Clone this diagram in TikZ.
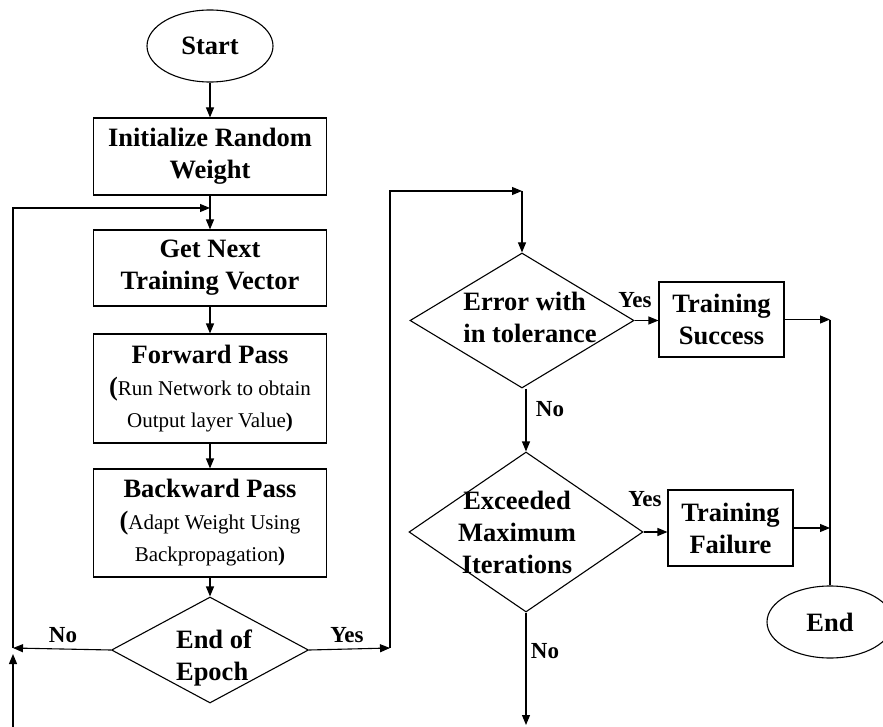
\documentclass[tikz,border=0pt]{standalone}
\usepackage{fontspec}
\setmainfont{Liberation Serif}
\usetikzlibrary{shapes.geometric, arrows.meta}

% lighter text for the second lines in the pass boxes
\newcommand{\detail}{\mdseries\fontsize{21}{32}\selectfont}

\tikzset{
  terminal/.style={draw, ellipse, minimum width=126pt, minimum height=72pt, inner sep=0pt, font=\bfseries\fontsize{26.5}{31}\selectfont},
  process/.style={draw, rectangle, inner sep=0pt, align=center, font=\bfseries\fontsize{26.5}{32}\selectfont},
  decision/.style={draw, diamond, inner sep=0pt},
  dtext/.style={align=left, inner sep=0pt, font=\bfseries\fontsize{26.5}{32}\selectfont},
  answer/.style={inner sep=0pt, font=\bfseries\fontsize{23}{26}\selectfont}
}

\begin{document}
\begin{tikzpicture}[x=1pt, y=-1pt, line width=1.1pt, >={Triangle[length=10pt,width=8pt]}]
  \useasboundingbox (0,0) rectangle (883,727);

  % training loop
  \node[terminal] (start) at (210,46) {\raisebox{-5pt}{Start}};
  \node[process, minimum width=233pt, minimum height=77pt] (init) at (210,156.5) {Initialize Random\\Weight};
  \node[process, minimum width=233pt, minimum height=76pt] (next) at (210,268) {Get Next\\Training Vector};
  \node[process, minimum width=233pt, minimum height=109pt] (fwd) at (210,388.5) {Forward Pass\\(\detail Run Network to obtain\\\detail Output layer Value\bfseries)};
  \node[process, minimum width=233pt, minimum height=108pt] (bwd) at (210,523) {Backward Pass\\(\detail Adapt Weight Using\\\detail Backpropagation\bfseries)};
  \node[decision, minimum width=197pt, minimum height=106pt,
        label={[dtext, xshift=4pt, yshift=-8pt]center:{End of\\Epoch}}] (epoch) at (210,650) {};

  % checks after the epoch
  \node[decision, minimum width=224pt, minimum height=135pt,
        label={[dtext, xshift=8pt, yshift=3pt]center:{Error with\\in tolerance}}] (error) at (522,320.5) {};
  \node[process, minimum width=125pt, minimum height=75pt] (success) at (721.5,319.5) {Training\\Success};
  \node[decision, minimum width=234pt, minimum height=160pt,
        label={[dtext, align=center, xshift=-9pt]center:{Exceeded\\Maximum\\Iterations}}] (exceed) at (526,532) {};
  \node[process, minimum width=125pt, minimum height=76pt] (failure) at (730.5,528) {Training\\Failure};
  \node[terminal] (finish) at (830,622) {End};

  \coordinate (loopin) at (13,727);
  \coordinate (loopup) at (13,654);
  \coordinate (loopb) at (13,648);
  \coordinate (loopt) at (13,208);
  \coordinate (merge) at (210,208);
  \coordinate (turnb) at (390,648);
  \coordinate (turnt) at (390,191);
  \coordinate (exit) at (526,725);

  \draw[->] (start) -- (init);
  \draw[->] (init) -- (next);
  \draw[->] (next) -- (fwd);
  \draw[->] (fwd) -- (bwd);
  \draw[->] (bwd) -- (epoch);

  % back to the next vector
  \draw[->] (epoch.west) -- (loopb);
  \draw[->] (loopin) -- (loopup);
  \draw[->] (loopb) -- (loopt) -- (merge);

  % on to the error check
  \draw[->] (epoch.east) -- (turnb);
  \draw[->] (turnb) -- (turnt) -- (turnt -| error.north);
  \draw[->] (turnt -| error.north) -- (error.north);

  \draw[->] (error.east) -- (error.east -| success.west);
  \draw[->] (exceed.north |- error.south) -- (exceed.north);
  \draw[->] (exceed.east) -- (exceed.east -| failure.west);
  \draw[->] (exceed.south) -- (exit);
  \draw[->] (success.east) -- (success.east -| finish.north);
  \draw[->] (failure.east) -- (failure.east -| finish.north);
  \draw (success.east -| finish.north) -- (finish.north);

  \node[answer] (no1) at (63,635) {No};
  \node[answer] (yes1) at (347,635) {Yes};
  \node[answer] (yes2) at (635,300) {Yes};
  \node[answer] (no2) at (550,409) {No};
  \node[answer] (yes3) at (645,499) {Yes};
  \node[answer] (no3) at (545,651) {No};
\end{tikzpicture}
\end{document}
